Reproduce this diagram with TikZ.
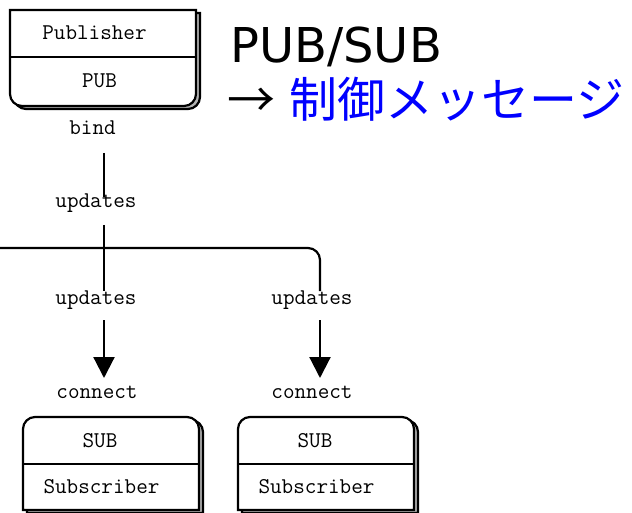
\documentclass[tikz,border=0pt]{standalone}
\usepackage{fontspec}
\newfontfamily\titlefont{DejaVu Sans}
\newfontfamily\cjkfont{Noto Sans CJK JP}
\usetikzlibrary{arrows.meta}
\definecolor{msgblue}{RGB}{0,0,255}
\begin{document}
\begin{tikzpicture}[x=1pt,y=-1pt,
  lbl/.style={font=\ttfamily\fontsize{22.5}{27}\selectfont, inner sep=0pt, anchor=base},
  title/.style={font=\titlefont\fontsize{48}{56}\selectfont, inner sep=0pt, anchor=base west},
  wire/.style={line width=2.2pt, draw=black},
  flow/.style={wire, -{Triangle[width=21pt,length=21pt]}},
  outline/.style={line width=2.2pt, draw=black, fill=white},
  shade/.style={line width=2.2pt, draw=black, fill=gray!60}]
\useasboundingbox (0,0) rectangle (632,513);

% publisher socket box: square top, rounded bottom, drop shadow
\newcommand\pubboxpath{(103,10) -- (196,10) -- (196,58) [rounded corners=12pt] -- (196,106) -- (10,106) -- (10,58) [sharp corners] -- (10,10) -- cycle}
\path[shade, shift={(4,3)}] \pubboxpath;
\path[outline] \pubboxpath;
\draw[line width=2pt] (10,57) -- (196,57);
\node[lbl] (pubname) at (94.5,40) {Publisher};
\node[lbl] (pubsock) at (99.5,88) {PUB};
\node[lbl] (bind) at (92.5,135) {bind};

% subscriber socket boxes: rounded top, drop shadow on the right
\newcommand\subboxpath[1]{(#1+88,510) -- (#1,510) -- (#1,460) [rounded corners=12pt] -- (#1,417) -- (#1+176,417) -- (#1+176,460) [sharp corners] -- (#1+176,510) -- cycle}
\path[shade, shift={(4,3)}] \subboxpath{23};
\path[outline] \subboxpath{23};
\draw[line width=2pt] (23,464) -- (199,464);
\path[shade, shift={(4,3)}] \subboxpath{238};
\path[outline] \subboxpath{238};
\draw[line width=2pt] (238,464) -- (414,464);

\node[lbl] (subsockA) at (100,447) {SUB};
\node[lbl] (subnameA) at (101.5,493) {Subscriber};
\node[lbl] (subsockB) at (315,447) {SUB};
\node[lbl] (subnameB) at (316.5,493) {Subscriber};

% message labels along the wires
\node[lbl] (updA) at (96,208) {updates};
\node[lbl] (updB) at (96,304) {updates};
\node[lbl] (updC) at (312,304) {updates};
\node[lbl] (connA) at (97,398) {connect};
\node[lbl] (connB) at (312,398) {connect};

% wire end points
\coordinate (bindfoot) at (104,153);
\coordinate (updAtop) at (104,197);
\coordinate (updAfoot) at (104,225);
\coordinate (updBtop) at (104,291);
\coordinate (busL) at (0,248);
\coordinate (busR) at (320,248);
\coordinate (updCtop) at (320,291);
\coordinate (updBfoot) at (104,320);
\coordinate (connAtop) at (104,378);
\coordinate (updCfoot) at (320,320);
\coordinate (connBtop) at (320,378);

\draw[wire] (bindfoot) -- (updAtop);
\draw[wire] (updAfoot) -- (updBtop);
\draw[wire, rounded corners=12pt] (busL) -- (busR) -- (updCtop);
\draw[flow] (updBfoot) -- (connAtop);
\draw[flow] (updCfoot) -- (connBtop);

% heading
\node[title] (heading) at (230,63) {PUB/SUB};
\node[title] (caption) at (227,118) {{\cjkfont →\hspace{14pt}\color{msgblue}制御メッセージ}};
\end{tikzpicture}
\end{document}
